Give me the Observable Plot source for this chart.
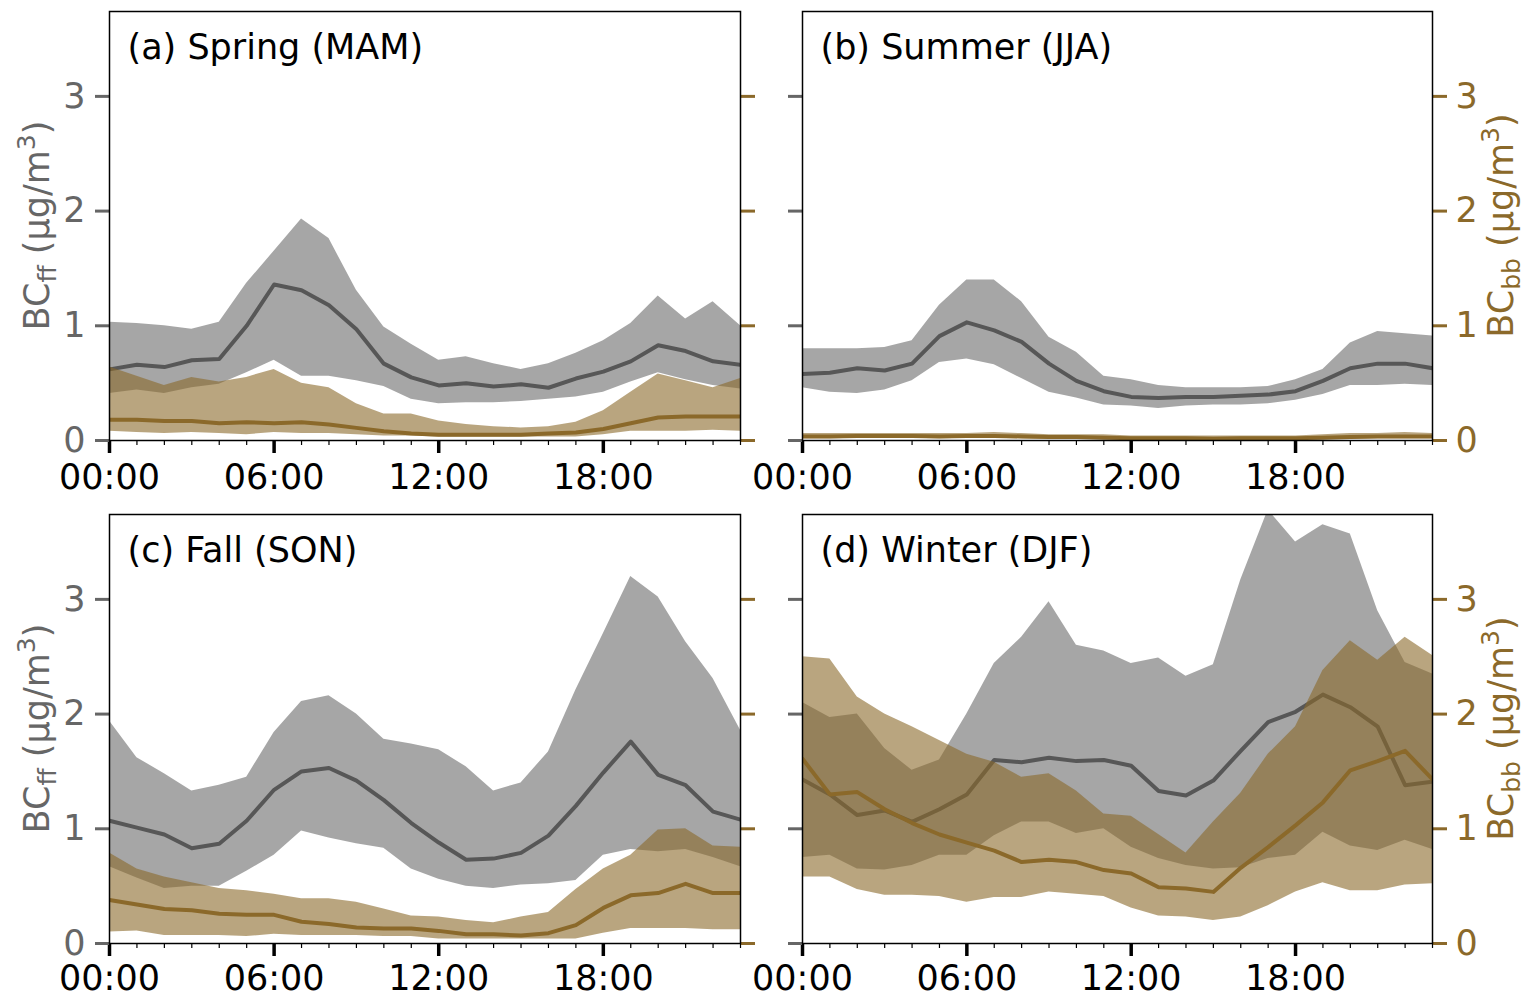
<!DOCTYPE html>
<html><head><meta charset="utf-8">
<script src="https://cdn.jsdelivr.net/npm/d3@7"></script>
<script src="https://cdn.jsdelivr.net/npm/@observablehq/plot@0.6"></script>
<style>
body{margin:0;background:#fff;}
#chart{position:relative;width:1527px;height:997px;font-family:"DejaVu Sans",sans-serif;}
#chart svg{position:absolute;overflow:visible;}
</style></head><body><div id="chart"></div>
<script>
// hour of day
const hours = [0,1,2,3,4,5,6,7,8,9,10,11,12,13,14,15,16,17,18,19,20,21,22,23];
const majorHours = [0,6,12,18];
const hourLabels = ["00:00","06:00","12:00","18:00"];
const yTicks = [0,1,2,3];
const titles = ["(a) Spring (MAM)","(b) Summer (JJA)","(c) Fall (SON)","(d) Winter (DJF)"];

// (a) Spring
const springFFHi  = [1.03,1.02,1.00,0.97,1.03,1.37,1.65,1.93,1.76,1.31,0.99,0.84,0.70,0.73,0.67,0.62,0.67,0.76,0.87,1.02,1.26,1.06,1.21,1.00];
const springFFMed = [0.62,0.66,0.64,0.70,0.71,1.00,1.36,1.31,1.18,0.97,0.67,0.55,0.48,0.50,0.47,0.49,0.46,0.54,0.60,0.69,0.83,0.78,0.69,0.66];
const springFFLo  = [0.41,0.44,0.41,0.46,0.49,0.59,0.70,0.56,0.56,0.52,0.47,0.36,0.32,0.33,0.33,0.34,0.36,0.38,0.42,0.51,0.59,0.53,0.48,0.45];
const springBBHi  = [0.64,0.56,0.48,0.55,0.51,0.55,0.62,0.50,0.46,0.32,0.23,0.23,0.17,0.14,0.12,0.11,0.12,0.16,0.26,0.42,0.58,0.52,0.46,0.54];
const springBBMed = [0.18,0.18,0.17,0.17,0.15,0.16,0.15,0.16,0.14,0.11,0.08,0.06,0.05,0.05,0.05,0.05,0.06,0.07,0.10,0.15,0.20,0.21,0.21,0.21];
const springBBLo  = [0.08,0.07,0.06,0.07,0.06,0.05,0.07,0.06,0.06,0.05,0.04,0.04,0.03,0.03,0.03,0.03,0.03,0.03,0.05,0.08,0.08,0.08,0.09,0.08];

// (b) Summer
const summerFFHi  = [0.80,0.80,0.80,0.81,0.87,1.18,1.40,1.40,1.21,0.90,0.77,0.56,0.53,0.48,0.46,0.46,0.46,0.47,0.53,0.62,0.85,0.95,0.93,0.91];
const summerFFMed = [0.58,0.59,0.63,0.61,0.67,0.91,1.03,0.96,0.86,0.67,0.52,0.43,0.38,0.37,0.38,0.38,0.39,0.40,0.43,0.52,0.63,0.67,0.67,0.63];
const summerFFLo  = [0.46,0.42,0.41,0.44,0.52,0.68,0.71,0.66,0.54,0.42,0.37,0.31,0.30,0.28,0.30,0.31,0.31,0.32,0.35,0.40,0.48,0.48,0.49,0.48];
const summerBBHi  = [0.06,0.06,0.06,0.06,0.06,0.06,0.06,0.07,0.06,0.05,0.05,0.05,0.04,0.04,0.04,0.04,0.04,0.04,0.04,0.05,0.06,0.06,0.07,0.06];
const summerBBMed = [0.035,0.035,0.04,0.04,0.04,0.035,0.04,0.04,0.035,0.03,0.03,0.025,0.02,0.02,0.02,0.015,0.02,0.02,0.02,0.025,0.03,0.035,0.035,0.035];
const summerBBLo  = [0.015,0.015,0.02,0.02,0.02,0.015,0.02,0.02,0.015,0.01,0.01,0.01,0.01,0.005,0.005,0.005,0.005,0.005,0.005,0.01,0.01,0.015,0.015,0.015];

// (c) Fall
const fallFFHi  = [1.94,1.62,1.48,1.33,1.38,1.45,1.84,2.11,2.16,2.00,1.78,1.74,1.69,1.54,1.33,1.40,1.67,2.21,2.70,3.20,3.02,2.63,2.31,1.86];
const fallFFMed = [1.07,1.01,0.95,0.83,0.87,1.07,1.34,1.50,1.53,1.42,1.25,1.05,0.88,0.73,0.74,0.79,0.94,1.20,1.49,1.76,1.47,1.38,1.15,1.08];
const fallFFLo  = [0.67,0.57,0.48,0.50,0.50,0.63,0.77,0.98,0.92,0.87,0.83,0.65,0.56,0.50,0.48,0.51,0.52,0.55,0.77,0.82,0.80,0.82,0.75,0.67];
const fallBBHi  = [0.79,0.65,0.58,0.53,0.48,0.46,0.43,0.39,0.39,0.36,0.30,0.24,0.23,0.20,0.18,0.23,0.27,0.47,0.65,0.77,0.99,1.00,0.85,0.84];
const fallBBMed = [0.38,0.34,0.30,0.29,0.26,0.25,0.25,0.19,0.17,0.14,0.13,0.13,0.11,0.08,0.08,0.07,0.09,0.16,0.31,0.42,0.44,0.52,0.44,0.44];
const fallBBLo  = [0.10,0.11,0.07,0.07,0.07,0.06,0.08,0.07,0.07,0.07,0.06,0.06,0.04,0.04,0.04,0.04,0.04,0.04,0.09,0.13,0.13,0.13,0.12,0.12];

// (d) Winter
const winterFFHi  = [2.10,1.97,2.00,1.70,1.51,1.60,2.00,2.44,2.67,2.98,2.60,2.55,2.44,2.49,2.33,2.43,3.17,3.78,3.50,3.65,3.57,2.90,2.45,2.35];
const winterFFMed = [1.43,1.30,1.12,1.16,1.06,1.17,1.30,1.60,1.58,1.62,1.59,1.60,1.55,1.33,1.29,1.42,1.68,1.93,2.02,2.17,2.06,1.89,1.38,1.41];
const winterFFLo  = [0.75,0.77,0.65,0.64,0.68,0.77,0.77,0.94,1.06,1.06,0.96,1.00,0.84,0.74,0.68,0.65,0.66,0.74,0.77,0.97,0.85,0.81,0.90,0.82];
const winterBBHi  = [2.50,2.48,2.15,2.00,1.89,1.77,1.65,1.58,1.45,1.48,1.33,1.13,1.11,0.95,0.79,1.06,1.31,1.65,1.89,2.38,2.64,2.47,2.67,2.51];
const winterBBMed = [1.61,1.30,1.32,1.17,1.05,0.95,0.88,0.81,0.71,0.73,0.71,0.64,0.61,0.49,0.48,0.45,0.66,0.84,1.03,1.23,1.51,1.59,1.68,1.43];
const winterBBLo  = [0.58,0.58,0.47,0.42,0.42,0.41,0.36,0.40,0.40,0.45,0.43,0.41,0.31,0.24,0.23,0.20,0.23,0.33,0.45,0.53,0.46,0.46,0.51,0.52];

const GRAY_FILL = "#808080", GRAY_LINE = "#575757", GRAY_AXIS = "#666666";
const BROWN = "#8b692a";

const panels = [
  {title: titles[0], ff:[springFFLo,springFFMed,springFFHi], bb:[springBBLo,springBBMed,springBBHi], left:0, top:0, w:763, h:500, ml:109, mr:23, mt:11, mb:60, pad:11, leftLabels:true, rightLabels:false},
  {title: titles[1], ff:[summerFFLo,summerFFMed,summerFFHi], bb:[summerBBLo,summerBBMed,summerBBHi], left:763, top:0, w:764, h:500, ml:39, mr:95, mt:11, mb:60, pad:11, leftLabels:false, rightLabels:true},
  {title: titles[2], ff:[fallFFLo,fallFFMed,fallFFHi], bb:[fallBBLo,fallBBMed,fallBBHi], left:0, top:500, w:763, h:497, ml:109, mr:23, mt:14, mb:54, pad:9, leftLabels:true, rightLabels:false},
  {title: titles[3], ff:[winterFFLo,winterFFMed,winterFFHi], bb:[winterBBLo,winterBBMed,winterBBHi], left:763, top:500, w:764, h:497, ml:39, mr:95, mt:14, mb:54, pad:9, leftLabels:false, rightLabels:true}
];

function addYLabel(svg, x, y, sub, color) {
  const t = d3.select(svg).append("text")
    .attr("transform", `translate(${x},${y}) rotate(-90)`)
    .attr("text-anchor", "middle")
    .attr("fill", color)
    .attr("font-size", 35)
    .attr("font-family", "DejaVu Sans, sans-serif");
  t.append("tspan").text("BC");
  t.append("tspan").attr("font-size", 25).attr("dy", 7).text(sub);
  t.append("tspan").attr("dy", -7).text(" (µg/m");
  t.append("tspan").attr("font-size", 25).attr("dy", -14).text("3");
  t.append("tspan").attr("dy", 14).text(")");
}

const chart = document.getElementById("chart");
for (const p of panels) {
  const rows = hours.map((h, i) => ({
    h, ffLo: p.ff[0][i], ffMed: p.ff[1][i], ffHi: p.ff[2][i],
    bbLo: p.bb[0][i], bbMed: p.bb[1][i], bbHi: p.bb[2][i]
  }));
  const svg = Plot.plot({
    width: p.w, height: p.h,
    marginLeft: p.ml, marginRight: p.mr, marginTop: p.mt, marginBottom: p.mb,
    x: {domain: [0, 23], label: null},
    y: {domain: [0, 3.74], label: null},
    style: {fontFamily: "DejaVu Sans, sans-serif", fontSize: "35px", overflow: "visible", background: "transparent"},
    marks: [
      Plot.areaY(rows, {x: "h", y1: "ffLo", y2: "ffHi", fill: GRAY_FILL, fillOpacity: 0.7, clip: true}),
      Plot.lineY(rows, {x: "h", y: "ffMed", stroke: GRAY_LINE, strokeWidth: 4, clip: true}),
      Plot.areaY(rows, {x: "h", y1: "bbLo", y2: "bbHi", fill: BROWN, fillOpacity: 0.6, clip: true}),
      Plot.lineY(rows, {x: "h", y: "bbMed", stroke: BROWN, strokeWidth: 4, clip: true}),
      Plot.axisX({ticks: hours, tickSize: 5, strokeWidth: 1.2, tickFormat: () => "", label: null, stroke: "black"}),
      Plot.axisX({ticks: majorHours, tickSize: 13, tickPadding: p.pad, strokeWidth: 3.5, stroke: "black", fill: "black", fontSize: 35,
                  tickFormat: h => hourLabels[majorHours.indexOf(h)], label: null}),
      Plot.axisY({ticks: yTicks, anchor: "left", tickSize: 14, tickPadding: 10, strokeWidth: 3, color: GRAY_AXIS, fontSize: 35,
                  tickFormat: p.leftLabels ? (d => String(d)) : (() => ""), label: null}),
      Plot.axisY({ticks: yTicks, anchor: "right", tickSize: 14, tickPadding: 9, strokeWidth: 3, color: BROWN, fontSize: 35,
                  tickFormat: p.rightLabels ? (d => String(d)) : (() => ""), label: null}),
      Plot.frame({stroke: "black", strokeWidth: 1.5}),
      Plot.text([p.title], {frameAnchor: "top-left", dx: 18, dy: 23, lineAnchor: "top", textAnchor: "start", fontSize: 35, fill: "black", text: d => d})
    ]
  });
  svg.style.left = p.left + "px";
  svg.style.top = p.top + "px";
  const cy = p.mt + (p.h - p.mt - p.mb) / 2;
  if (p.leftLabels) addYLabel(svg, 49, cy, "ff", GRAY_AXIS);
  if (p.rightLabels) addYLabel(svg, 1513 - p.left, cy, "bb", BROWN);
  chart.appendChild(svg);
}
</script>
</body></html>
